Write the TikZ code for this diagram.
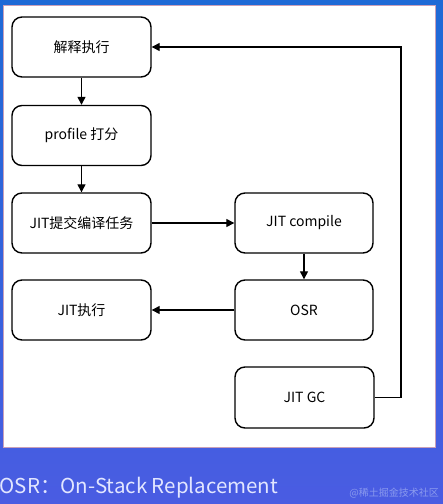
\documentclass[tikz,border=0pt]{standalone}
\usepackage{fontspec}
\setmainfont{Noto Sans CJK SC}
\usetikzlibrary{arrows.meta}
\definecolor{bgtop}{HTML}{1E6AD6}
\definecolor{bgbot}{HTML}{4A5CE2}
\definecolor{captxt}{HTML}{E2E6FF}
\definecolor{wmtxt}{HTML}{8A9AEE}
\definecolor{paneledge}{HTML}{C9A0B8}
\tikzset{
  stepbox/.style={draw=black, line width=1.4pt, rounded corners=10pt, fill=white,
    minimum width=139pt, minimum height=60pt, inner sep=0pt, font=\fontsize{14}{16}\selectfont},
  flow/.style={line width=1.3pt, -{Triangle[length=8pt,width=8pt]}},
}
\begin{document}
\begin{tikzpicture}[x=1pt,y=-1pt]
\useasboundingbox (0,0) rectangle (443,504);
\shade[top color=bgtop, bottom color=bgbot] (0,0) rectangle (443,504);
\fill[white, draw=paneledge, line width=1pt] (3,5) rectangle (435,447);

\node[stepbox] (a) at (81.5,47) {解释执行};
\node[stepbox] (b) at (81.5,135.5) {profile 打分};
\node[stepbox] (c) at (81.5,223) {JIT提交编译任务};
\node[stepbox, minimum width=138pt] (d) at (304,223) {JIT compile};
\node[stepbox, minimum width=138pt] (e) at (304,310) {OSR};
\node[stepbox] (f) at (81.5,310) {JIT执行};
\node[stepbox, minimum width=139pt, minimum height=61pt] (g) at (304.5,397.5) {JIT GC};
\coordinate (r1) at (401,397.5);
\coordinate (r2) at (401,47);

\draw[flow] (a) -- (b);
\draw[flow] (b) -- (c);
\draw[flow] (c) -- (d);
\draw[flow] (d) -- (e);
\draw[flow] (e) -- (f);
\draw[flow] (g.east) -- (r1) -- (r2) -- (a.east);

\node[anchor=base west, inner sep=0pt, text=captxt, font=\fontsize{20.5}{23}\selectfont] (cap) at (-0.5,493) {OSR：On-Stack Replacement};
\node[anchor=base east, inner sep=0pt, text=wmtxt, font=\fontsize{10}{12}\selectfont] (wm) at (439,496) {@稀土掘金技术社区};
\end{tikzpicture}
\end{document}
